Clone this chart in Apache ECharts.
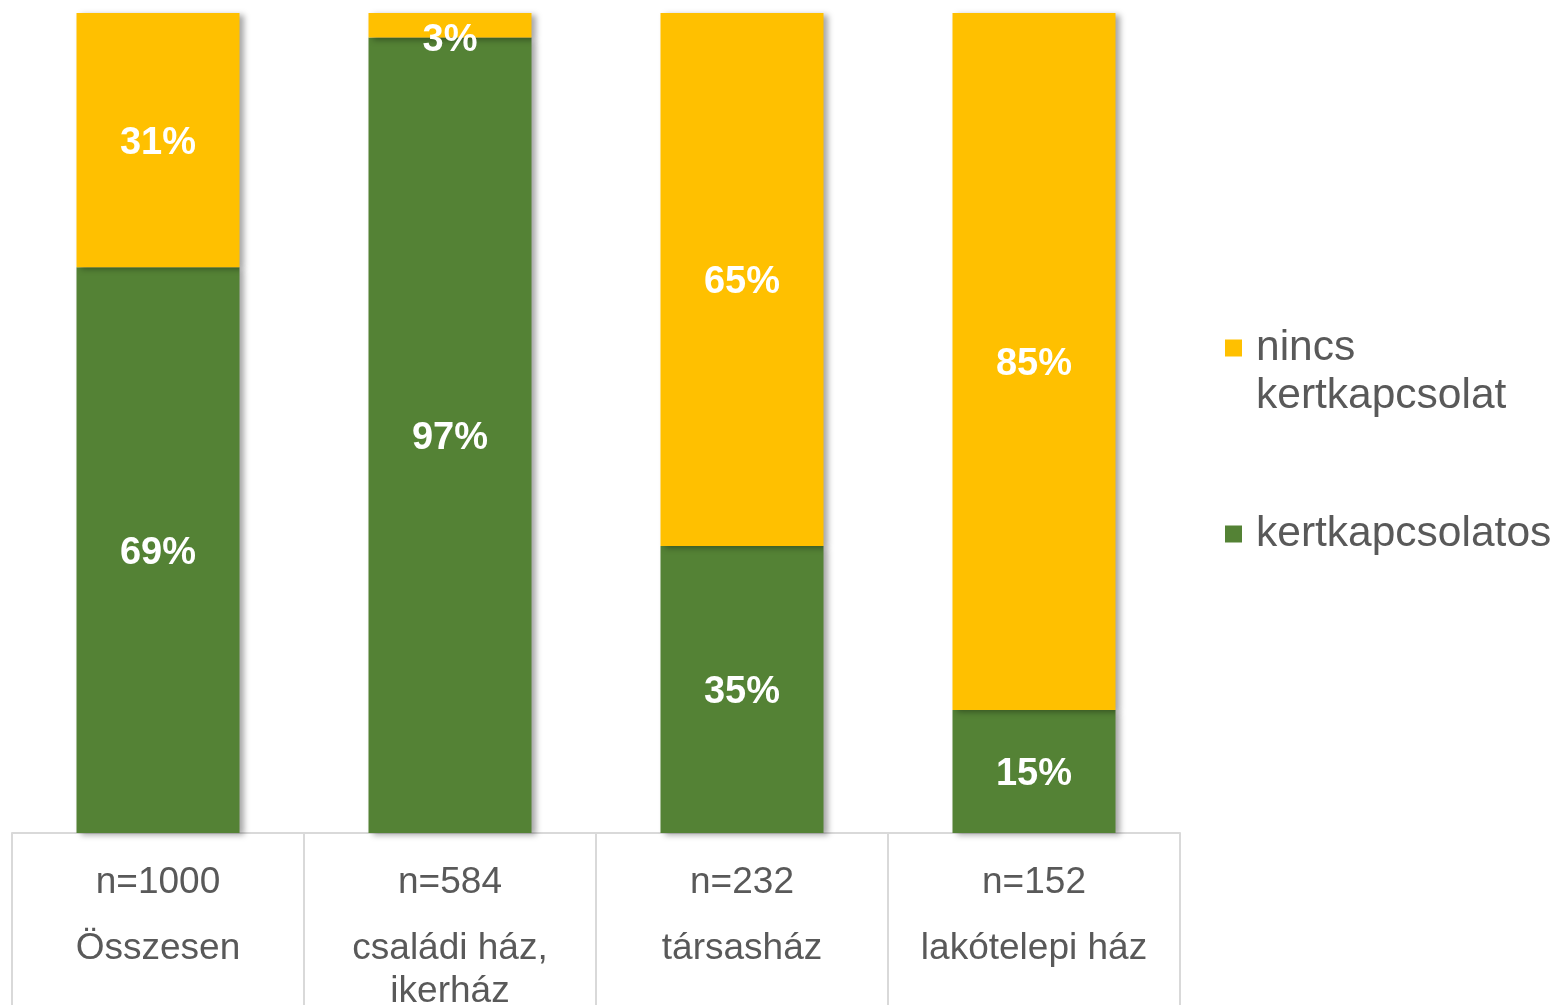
<!DOCTYPE html>
<html>
<head>
<meta charset="utf-8">
<script src="https://cdn.jsdelivr.net/npm/echarts@6/dist/echarts.min.js"></script>
<style>
  html, body { margin: 0; padding: 0; background: #fff; }
  #chart { width: 1560px; height: 1005px; }
</style>
</head>
<body>
<div id="chart"></div>
<script>
const categories = ['Összesen', 'családi ház,\nikerház', 'társasház', 'lakótelepi ház'];
const sampleSizes = ['n=1000', 'n=584', 'n=232', 'n=152'];
const kertkapcsolatos = [69, 97, 35, 15];
const nincsKertkapcsolat = [31, 3, 65, 85];

const font = '"Liberation Sans", Arial, sans-serif';

const chart = echarts.init(document.getElementById('chart'));

const barLabel = {
  show: true,
  position: 'inside',
  offset: [0, 3],
  formatter: '{c}%',
  color: '#fff',
  fontFamily: font,
  fontWeight: 'bold',
  fontSize: 38
};
const shadow = {
  shadowColor: 'rgba(0,0,0,0.35)',
  shadowBlur: 6,
  shadowOffsetX: 4,
  shadowOffsetY: 2
};

const option = {
  animation: false,
  grid: { left: 12, width: 1168, top: 13, height: 820, outerBoundsMode: 'none', containLabel: false },
  legend: {
    orient: 'vertical',
    left: 1225,
    top: 276,
    padding: 0,
    itemWidth: 17,
    itemHeight: 17,
    itemGap: 90,
    icon: 'rect',
    data: ['nincs kertkapcsolat', 'kertkapcsolatos'],
    formatter: function (name) {
      return name === 'nincs kertkapcsolat' ? '\nnincs\nkertkapcsolat' : name;
    },
    textStyle: { color: '#595959', fontFamily: font, fontSize: 42.5, lineHeight: 48, padding: [0, 0, 0, 9] }
  },
  xAxis: {
    type: 'category',
    data: categories,
    axisLine: { lineStyle: { color: '#d9d9d9', width: 2 } },
    axisTick: { show: true, length: 172, lineStyle: { color: '#d9d9d9', width: 2 } },
    axisLabel: {
      margin: 6,
      verticalAlign: 'top',
      formatter: function (value, i) {
        const lines = value.split('\n').map(function (l) { return '{c|' + l + '}'; });
        return '{n|' + sampleSizes[i] + '}\n' + lines.join('\n');
      },
      rich: {
        n: { color: '#595959', fontFamily: font, fontSize: 37, lineHeight: 88 },
        c: { color: '#595959', fontFamily: font, fontSize: 37, lineHeight: 43 }
      }
    }
  },
  yAxis: { type: 'value', min: 0, max: 100, show: false, splitLine: { show: false } },
  series: [
    {
      name: 'kertkapcsolatos',
      type: 'bar',
      stack: 'total',
      barWidth: 163,
      itemStyle: Object.assign({ color: '#548235' }, shadow),
      label: barLabel,
      data: kertkapcsolatos
    },
    {
      name: 'nincs kertkapcsolat',
      type: 'bar',
      stack: 'total',
      barWidth: 163,
      itemStyle: Object.assign({ color: '#FFC000' }, shadow),
      label: barLabel,
      data: nincsKertkapcsolat.map(function (v) {
        return v < 5 ? { value: v, label: { offset: [0, 15] } } : v;
      })
    }
  ]
};

chart.setOption(option);
</script>
</body>
</html>
